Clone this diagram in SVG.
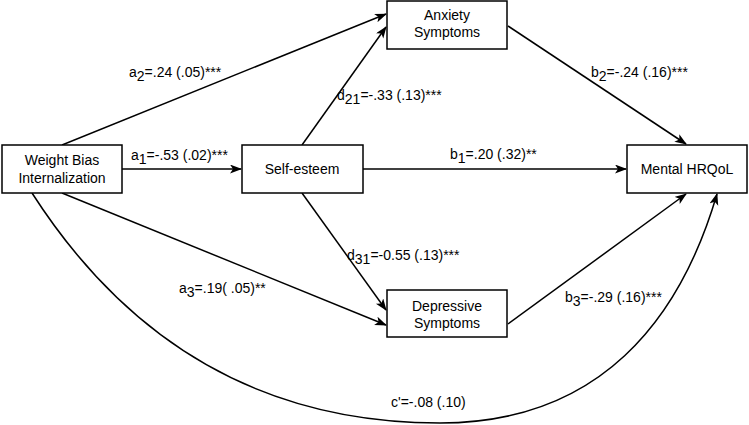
<svg xmlns="http://www.w3.org/2000/svg" width="749" height="425" viewBox="0 0 749 425">
<defs>
<style>
.box{fill:#fff;stroke:#000;stroke-width:1.5}
.n{font-family:"Liberation Sans",Arial,sans-serif;font-size:14px;text-anchor:middle;fill:#000}
.l{font-family:"Liberation Sans",Arial,sans-serif;font-size:14px;fill:#000}
.e{fill:none;stroke:#000;stroke-width:1.5;marker-end:url(#ah)}
</style>
<marker id="ah" markerWidth="12" markerHeight="10" refX="11" refY="4.5" orient="auto" markerUnits="userSpaceOnUse">
<path d="M0,0 L12,4.5 L0,9 L3,4.5 Z" fill="#000"/>
</marker>
</defs>
<rect width="749" height="425" fill="#fff"/>
<g id="connectors">
<path class="e" d="M62,145 L386,14"/>
<path class="e" d="M302,145 L386,27"/>
<path class="e" d="M122,169 L241,169"/>
<path class="e" d="M363,169 L626,169"/>
<path class="e" d="M508,26 L686,144"/>
<path class="e" d="M302,193 L386,310"/>
<path class="e" d="M62,193 L386,325"/>
<path class="e" d="M508,324 L686,194"/>
<path class="e" d="M32,193 C120,330 250,423 440,423 C600,423 680,320 717,194"/>
</g>
<g id="labels">
<text class="l" x="129" y="77">a<tspan dy="4">2</tspan><tspan dy="-4">=.24 (.05)***</tspan></text>
<text class="l" x="337" y="100">d<tspan dy="4">21</tspan><tspan dy="-4">=-.33 (.13)***</tspan></text>
<text class="l" x="131" y="160">a<tspan dy="4">1</tspan><tspan dy="-4">=-.53 (.02)***</tspan></text>
<text class="l" x="450" y="159">b<tspan dy="4">1</tspan><tspan dy="-4">=.20 (.32)**</tspan></text>
<text class="l" x="591" y="77">b<tspan dy="4">2</tspan><tspan dy="-4">=-.24 (.16)***</tspan></text>
<text class="l" x="347" y="260">d<tspan dy="4">31</tspan><tspan dy="-4">=-0.55 (.13)***</tspan></text>
<text class="l" x="179" y="293">a<tspan dy="4">3</tspan><tspan dy="-4">=.19( .05)**</tspan></text>
<text class="l" x="565" y="302">b<tspan dy="4">3</tspan><tspan dy="-4">=-.29 (.16)***</tspan></text>
<text class="l" x="391" y="407">c'=-.08 (.10)</text>
</g>
<g id="weight-bias">
<rect class="box" x="2" y="145" width="120" height="48"/>
<text class="n" x="62" y="165">Weight Bias</text>
<text class="n" x="62" y="183">Internalization</text>
</g>
<g id="self-esteem">
<rect class="box" x="242" y="145" width="121" height="48"/>
<text class="n" x="302" y="174">Self-esteem</text>
</g>
<g id="anxiety">
<rect class="box" x="387" y="1" width="120" height="48"/>
<text class="n" x="447" y="20">Anxiety</text>
<text class="n" x="447" y="37">Symptoms</text>
</g>
<g id="depressive">
<rect class="box" x="387" y="290" width="120" height="47"/>
<text class="n" x="447" y="311">Depressive</text>
<text class="n" x="447" y="328">Symptoms</text>
</g>
<g id="mental-hrqol">
<rect class="box" x="627" y="145" width="120" height="48"/>
<text class="n" x="687" y="174">Mental HRQoL</text>
</g>
</svg>
